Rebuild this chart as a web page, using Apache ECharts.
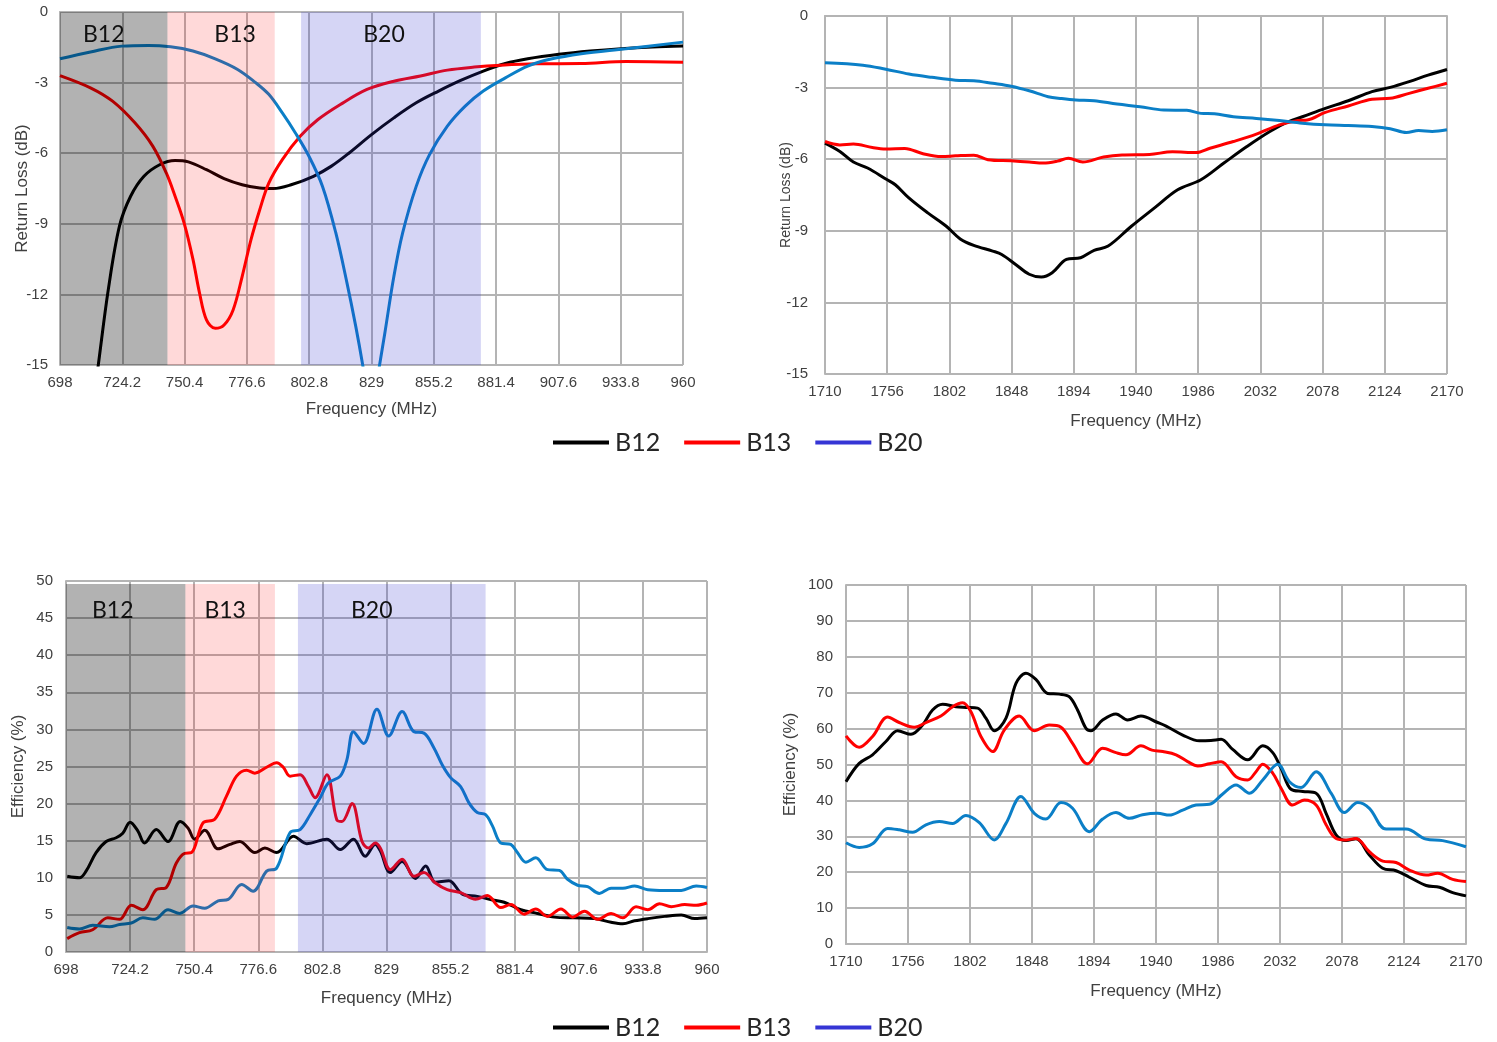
<!DOCTYPE html>
<html>
<head>
<meta charset="utf-8">
<script src="https://cdn.jsdelivr.net/npm/echarts@6/dist/echarts.min.js"></script>
<style>
html,body{margin:0;padding:0;background:#fff;}
#chart{width:1497px;height:1042px;}
</style>
</head>
<body>
<div id="chart"></div>
<script>
// ---------- tick labels / axis ranges ----------
const lowTicks = [698, 724.2, 750.4, 776.6, 802.8, 829, 855.2, 881.4, 907.6, 933.8, 960];
const highTicks = [1710, 1756, 1802, 1848, 1894, 1940, 1986, 2032, 2078, 2124, 2170];
const rlTicks = [0, -3, -6, -9, -12, -15];
const effLowTicks = [0, 5, 10, 15, 20, 25, 30, 35, 40, 45, 50];
const effHighTicks = [0, 10, 20, 30, 40, 50, 60, 70, 80, 90, 100];
const seriesNames = ['B12', 'B13', 'B20'];

// ---------- band ranges (MHz) ----------
const bandsRL = [[698, 743.2], [743.2, 788.3], [799.4, 875.0]];
const bandsEff = [[698, 746.8], [746.8, 783.4], [792.8, 869.5]];

// ---------- Return loss, low band (MHz, dB) ----------
const rlLowB12 = [[712,-16.6],[714.1,-15],[718.3,-11.8],[723,-9.1],[727.7,-7.83],[733.3,-6.98],[739.9,-6.49],[746.4,-6.31],[752,-6.37],[759.6,-6.7],[767,-7.08],[774.6,-7.34],[782,-7.48],[787.7,-7.5],[795.2,-7.34],[804.6,-6.98],[812,-6.56],[819.6,-5.99],[829,-5.21],[838.4,-4.5],[847.8,-3.86],[857.2,-3.36],[866.5,-2.91],[876,-2.51],[885.3,-2.19],[894.7,-1.99],[907.8,-1.8],[921,-1.66],[934,-1.56],[947.2,-1.49],[960,-1.45]];
const rlLowB13 = [[698,-2.7],[710.8,-3.22],[720.1,-3.79],[729.5,-4.71],[737,-5.7],[742.7,-6.84],[746.4,-7.83],[750.2,-8.97],[753.9,-10.5],[756.7,-11.95],[759.6,-13.08],[763.3,-13.44],[767,-13.3],[770.8,-12.66],[774.6,-11.24],[778.3,-9.68],[782,-8.4],[785.8,-7.27],[791.5,-6.27],[799,-5.28],[806.5,-4.57],[815.9,-3.93],[827.1,-3.29],[838.4,-2.94],[849.6,-2.72],[860.9,-2.47],[872.2,-2.34],[883.4,-2.26],[898.5,-2.2],[917.2,-2.19],[936,-2.1],[960,-2.13]];
const rlLowB20 = [[698,-1.99],[710.8,-1.7],[724,-1.45],[735.2,-1.42],[744.5,-1.48],[753.9,-1.66],[763.3,-1.99],[772.7,-2.44],[780,-2.98],[785.8,-3.5],[791.5,-4.29],[797,-5.14],[802.7,-6.13],[808.4,-7.41],[814,-9.39],[818.7,-11.52],[822.4,-13.37],[825.3,-15],[828.8,-17.2],[832.4,-15],[834.6,-13.65],[838.4,-11.24],[842.1,-9.39],[847.8,-7.41],[853.4,-6.06],[860.9,-4.85],[868.4,-4.0],[876,-3.36],[885.3,-2.8],[894.7,-2.3],[904,-2.01],[917.2,-1.77],[936,-1.56],[960,-1.28]];

// ---------- Return loss, high band (MHz, dB) ----------
const rlHighB12 = [[1710,-5.33],[1721,-5.68],[1731,-6.12],[1741.5,-6.37],[1755,-6.83],[1762,-7.07],[1772,-7.62],[1786,-8.25],[1799.7,-8.81],[1810,-9.34],[1820,-9.61],[1834,-9.85],[1840.7,-9.99],[1851,-10.41],[1861,-10.82],[1870,-10.94],[1878,-10.76],[1888.6,-10.2],[1899,-10.13],[1909,-9.82],[1919.4,-9.64],[1936.6,-8.81],[1953.7,-8.04],[1970.8,-7.28],[1988,-6.86],[2005,-6.16],[2022,-5.47],[2039,-4.84],[2053,-4.42],[2063,-4.22],[2080,-3.87],[2097,-3.55],[2114.5,-3.17],[2128,-2.99],[2142,-2.75],[2156,-2.48],[2170,-2.24]];
const rlHighB13 = [[1710,-5.26],[1721,-5.4],[1731,-5.36],[1745,-5.51],[1755,-5.57],[1769,-5.55],[1782.5,-5.77],[1796,-5.89],[1806.5,-5.86],[1820,-5.83],[1830.5,-6.02],[1847.6,-6.07],[1861,-6.12],[1871.5,-6.16],[1882,-6.08],[1890,-5.96],[1900.6,-6.12],[1916,-5.91],[1929.7,-5.82],[1950,-5.8],[1967,-5.69],[1984.5,-5.72],[1994.7,-5.54],[2012,-5.26],[2029,-4.95],[2046,-4.56],[2060,-4.38],[2066.6,-4.36],[2080,-4.04],[2097,-3.77],[2114.5,-3.49],[2128,-3.45],[2142,-3.24],[2156,-3.03],[2170,-2.82]];
const rlHighB20 = [[1710,-1.96],[1738,-2.06],[1755,-2.23],[1772,-2.43],[1789,-2.57],[1806.5,-2.69],[1820,-2.71],[1834,-2.82],[1847.6,-2.94],[1861,-3.13],[1875,-3.38],[1885,-3.46],[1895.5,-3.52],[1909,-3.55],[1926,-3.69],[1943,-3.8],[1960.5,-3.94],[1977.6,-3.95],[1988,-4.08],[1998,-4.1],[2012,-4.22],[2029,-4.29],[2046,-4.38],[2063,-4.49],[2080,-4.56],[2097,-4.59],[2114.5,-4.63],[2128,-4.72],[2140,-4.88],[2149,-4.8],[2159,-4.84],[2170,-4.77]];

// ---------- Efficiency, low band (MHz, %) ----------
const effLowB12 = [[698.5,10.2],[703.5,10.0],[706.2,10.9],[710.3,13.4],[714.4,14.9],[718.5,15.4],[721.2,16.0],[724.2,17.5],[727.4,16.3],[730.1,14.7],[734.9,16.5],[739.7,14.9],[744.7,17.6],[747.9,16.7],[750.6,15.2],[754.7,16.4],[760.2,13.9],[765,14.5],[769,14.9],[775.2,13.4],[779.3,14.0],[784.1,13.4],[791,15.6],[796.4,14.6],[804.6,15.2],[810.1,13.8],[815.5,15.2],[820.3,12.9],[824.4,14.5],[826.5,13.6],[830.6,10.7],[835.4,12.2],[840.8,9.9],[845,11.6],[849,9.4],[854.5,9.6],[860,7.8],[866.1,7.5],[872.3,7.0],[877.1,6.7],[883.9,5.7],[890.7,5.2],[897.6,4.7],[905.8,4.6],[914,4.5],[920.8,4.0],[925.6,3.8],[930.4,4.2],[935.8,4.5],[942.7,4.8],[949.5,5.0],[955,4.5],[960,4.6]];
const effLowB13 = [[698.5,1.8],[703.5,2.6],[708.9,3.0],[715.1,4.6],[719.9,4.4],[724.7,6.3],[729.4,5.7],[734.9,8.4],[739,8.7],[743.1,12.0],[746.5,13.3],[749.3,13.4],[754,17.4],[758.8,17.9],[763.6,21.0],[767.7,23.7],[771.8,24.5],[775.2,24.1],[780,24.9],[784.1,25.5],[786.8,24.9],[789.6,23.7],[793.7,23.9],[797.1,22.3],[799.8,20.8],[804.6,23.9],[808.7,17.8],[810.8,17.6],[814.9,20.0],[819,14.9],[821.7,14.0],[824.4,14.7],[826.5,14.0],[830.6,11.1],[835.4,12.5],[840.2,10.2],[844.3,10.7],[849,9.3],[853.8,8.4],[859.3,8.0],[865.4,7.1],[870.2,7.6],[875.7,6.0],[879.8,6.4],[885.3,5.1],[890,5.8],[894.8,4.8],[900.3,5.8],[905.1,4.7],[909.9,5.5],[915.3,4.4],[920.8,5.2],[925.6,4.6],[931,6.1],[935.8,5.7],[940.6,6.5],[945.4,6.1],[950.9,6.4],[955.6,6.3],[960,6.6]];
const effLowB20 = [[698.5,3.3],[703.5,3.1],[708.9,3.6],[715.8,3.4],[719.9,3.7],[724.7,3.9],[729.4,4.6],[734.2,4.4],[739.7,5.7],[744.5,5.2],[749.9,6.2],[754.7,5.9],[760.2,6.9],[764.3,7.1],[769.8,9.1],[774.5,8.2],[780,10.9],[784.1,11.3],[789.6,16.1],[793.7,16.5],[797.8,18.5],[801.9,20.8],[805.3,22.8],[810.1,23.7],[812.8,25.9],[815.5,29.7],[819.6,28.1],[825.1,32.7],[829.9,29.1],[835.4,32.4],[840.2,29.7],[844.3,29.5],[848.4,27.5],[851.8,25.2],[855.2,23.5],[859.3,22.3],[862.7,20.1],[866.1,18.8],[869.5,18.5],[872.3,17.0],[875.7,14.7],[879.8,14.5],[882.5,13.4],[886,12.1],[890,12.7],[894.8,11.1],[899.6,11.0],[903,9.8],[907.1,9.0],[911.2,8.8],[916,7.9],[920.8,8.6],[925.6,8.6],[930.4,8.9],[935.8,8.4],[942.7,8.3],[949.5,8.3],[955.6,8.9],[960,8.7]];

// ---------- Efficiency, high band (MHz, %) ----------
const effHighB12 = [[1710,45.2],[1719.8,50.3],[1729.7,52.7],[1739.6,56.4],[1748.3,59.4],[1758.2,58.4],[1766.8,61.0],[1774.2,65.2],[1781.7,66.8],[1791.6,66.1],[1799,65.9],[1807.6,65.7],[1813.8,62.9],[1820,59.4],[1828.7,62.9],[1836.1,72.6],[1843.5,75.4],[1850.9,73.7],[1859.6,69.8],[1868.2,69.6],[1875.6,68.9],[1881.8,65.2],[1888,60.1],[1891.7,59.4],[1900.4,62.4],[1910.3,64.1],[1918.9,62.4],[1928.8,63.5],[1941.2,61.7],[1947.5,60.7],[1959.8,58.2],[1972.2,56.6],[1980.8,56.7],[1988.3,57.0],[1996.9,54.2],[2008,51.3],[2019.2,55.2],[2026.6,53.3],[2032.8,48.9],[2040.2,43.1],[2048.9,42.5],[2058.8,42.0],[2066.2,36.4],[2073.6,30.4],[2081,28.8],[2088.4,29.3],[2098.3,24.8],[2108.2,21.1],[2118.1,20.4],[2128,18.6],[2140.4,16.3],[2150.3,15.8],[2160.1,14.3],[2170,13.4]];
const effHighB13 = [[1710,58.0],[1719.8,54.8],[1729.7,57.8],[1740.9,63.2],[1749.5,61.7],[1760.6,60.4],[1770.5,61.9],[1780.4,63.5],[1789.1,66.1],[1796.5,67.2],[1802.7,64.7],[1810.1,57.8],[1818.8,53.6],[1827.4,59.6],[1838.5,63.5],[1849.7,59.4],[1860.8,61.0],[1869.5,60.4],[1878.1,55.9],[1889.2,50.2],[1900.4,54.5],[1910.3,53.3],[1917.7,52.7],[1928.8,55.2],[1937,54.0],[1945,53.6],[1954.9,52.7],[1963.5,50.8],[1971,49.6],[1979.6,50.2],[1988.3,50.8],[1999.4,46.6],[2008,45.7],[2014.2,48.0],[2019.2,50.1],[2026.6,47.6],[2032.8,43.4],[2041.4,38.7],[2050.1,40.1],[2058.8,38.7],[2066.2,33.2],[2073.6,29.4],[2081,29.0],[2088.4,29.4],[2098.3,25.7],[2108.2,23.1],[2118.1,22.7],[2128,20.6],[2140.4,19.2],[2149,19.7],[2160.1,18.0],[2170,17.4]];
const effHighB20 = [[1710,28.2],[1719.8,26.9],[1729.7,27.9],[1740.9,32.2],[1749.5,31.8],[1759.4,31.1],[1769.3,33.2],[1779.2,34.1],[1789.1,33.6],[1799,35.8],[1808.9,33.8],[1820,29.0],[1828.7,33.6],[1839.8,41.1],[1849.7,36.4],[1858.3,34.8],[1869.5,39.4],[1878.1,37.8],[1890.5,31.3],[1900.4,34.8],[1910.3,36.6],[1920.2,35.0],[1930,36.0],[1941.2,36.4],[1949.9,35.9],[1959.8,37.3],[1969.7,38.7],[1979.6,38.9],[1989.5,41.8],[1999.4,44.3],[2009.3,42.0],[2019.2,45.7],[2030.3,50.1],[2039,45.2],[2047.6,43.6],[2058.8,48.0],[2069.9,42.0],[2079.8,36.6],[2089.7,39.4],[2098.3,37.8],[2110.7,32.0],[2125.5,32.0],[2140.4,29.2],[2152.7,28.8],[2170,27.1]];

// ---------- styling ----------
const lineColors = {B12: '#000000', B13: '#ff0000', B20: '#0b7fc7'};
const legendColors = {B12: '#000000', B13: '#ff0000', B20: '#3535d5'};
const bandColors = ['rgba(0,0,0,0.30)', 'rgba(255,0,0,0.15)', 'rgba(51,51,204,0.205)'];
const gridColor = '#b4b4b4';
const tickFont = "'Liberation Sans', Arial, sans-serif";
const bandFont = "Lato, 'Noto Sans', sans-serif";

const grids = [
  {left: 60, top: 12, width: 623, height: 353},
  {left: 825, top: 16, width: 622, height: 358},
  {left: 66, top: 581, width: 641, height: 371},
  {left: 846, top: 585, width: 620, height: 359}
];

function fmtNum(v) { return String(Math.round(v * 10) / 10); }

function makeXAxis(gi, ticks, nameGap) {
  const base = ticks[0];
  return {
    type: 'value', gridIndex: gi,
    min: 0, max: ticks[ticks.length - 1] - base,
    interval: ticks[1] - base,
    axisLine: {lineStyle: {color: gridColor, width: 2}},
    axisTick: {show: false},
    splitLine: {lineStyle: {color: gridColor, width: 2}},
    axisLabel: {formatter: v => fmtNum(base + v), color: '#404040', fontSize: 15, fontFamily: tickFont, margin: 10},
    name: 'Frequency (MHz)', nameLocation: 'middle', nameGap: nameGap, nameMoveOverlap: false,
    nameTextStyle: {color: '#404040', fontSize: 17, fontFamily: tickFont}
  };
}
function makeYAxis(gi, ticks, name, nameGap, nameSize, margin) {
  const lo = Math.min(...ticks), hi = Math.max(...ticks);
  return {
    type: 'value', gridIndex: gi,
    min: lo, max: hi, interval: Math.abs(ticks[1] - ticks[0]),
    axisLine: {show: true, lineStyle: {color: gridColor, width: 2}},
    axisTick: {show: false},
    splitLine: {lineStyle: {color: gridColor, width: 2}},
    axisLabel: {color: '#404040', fontSize: 15, fontFamily: tickFont, margin: margin},
    name: name, nameLocation: 'middle', nameGap: nameGap, nameMoveOverlap: false,
    nameTextStyle: {color: '#404040', fontSize: nameSize, fontFamily: tickFont}
  };
}

const xAxes = [
  makeXAxis(0, lowTicks, 36),
  makeXAxis(1, highTicks, 39),
  makeXAxis(2, lowTicks, 38),
  makeXAxis(3, highTicks, 39)
];
const yAxes = [
  makeYAxis(0, rlTicks, 'Return Loss (dB)', 29, 17, 12),
  makeYAxis(1, rlTicks, 'Return Loss (dB)', 32, 14, 17),
  makeYAxis(2, effLowTicks, 'Efficiency (%)', 39, 17, 13),
  makeYAxis(3, effHighTicks, 'Efficiency (%)', 47, 17, 13)
];

const panelData = [
  {base: lowTicks[0], sets: [rlLowB12, rlLowB13, rlLowB20]},
  {base: highTicks[0], sets: [rlHighB12, rlHighB13, rlHighB20]},
  {base: lowTicks[0], sets: [effLowB12, effLowB13, effLowB20]},
  {base: highTicks[0], sets: [effHighB12, effHighB13, effHighB20]}
];

const series = [];
panelData.forEach((p, gi) => {
  p.sets.forEach((arr, si) => {
    const nm = seriesNames[si];
    series.push({
      name: nm, type: 'line', xAxisIndex: gi, yAxisIndex: gi,
      data: arr.map(d => [d[0] - p.base, d[1]]),
      showSymbol: false, smooth: 0.35, clip: true, z: 2,
      color: lineColors[nm],
      lineStyle: {width: 3, color: lineColors[nm]},
      emphasis: {disabled: true}
    });
  });
});

// band overlays (drawn above the curves, as in the reference)
function bandSeries(gi, bands, yTop, yBot, labelOffsets, labelDist) {
  const base = lowTicks[0];
  return {
    type: 'line', xAxisIndex: gi, yAxisIndex: gi, data: [], z: 5, silent: true,
    markArea: {
      silent: true, z: 6,
      data: bands.map((b, i) => [
        {
          name: seriesNames[i], xAxis: b[0] - base, yAxis: yTop,
          itemStyle: {color: bandColors[i]},
          label: {show: true, position: 'insideTop', distance: labelDist, offset: labelOffsets[i],
                  color: '#111', fontSize: 23, fontFamily: bandFont}
        },
        {xAxis: b[1] - base, yAxis: yBot}
      ])
    }
  };
}
series.push(bandSeries(0, bandsRL, 0, -15, [[-10, 0], [14, 0], [-7, 0]], 11));
series.push(bandSeries(2, bandsEff, 49.6, 0, [[-13, 0], [-5, 0], [-20, 0]], 15));

const legendData = seriesNames.map(n => ({name: n, itemStyle: {color: legendColors[n]}}));
function makeLegend(top) {
  return {
    data: legendData, left: 548, top: top, orient: 'horizontal',
    icon: 'rect', itemWidth: 56, itemHeight: 4, itemGap: 24,
    textStyle: {color: '#262626', fontSize: 25, fontFamily: bandFont, padding: [0, 0, 0, 1]},
    selectedMode: false
  };
}

const chart = echarts.init(document.getElementById('chart'), null, {renderer: 'canvas'});
chart.setOption({
  animation: false,
  backgroundColor: '#ffffff',
  grid: grids.map(g => Object.assign({containLabel: false}, g)),
  xAxis: xAxes,
  yAxis: yAxes,
  legend: [makeLegend(425), makeLegend(1010)],
  series: series
});
</script>
</body>
</html>
